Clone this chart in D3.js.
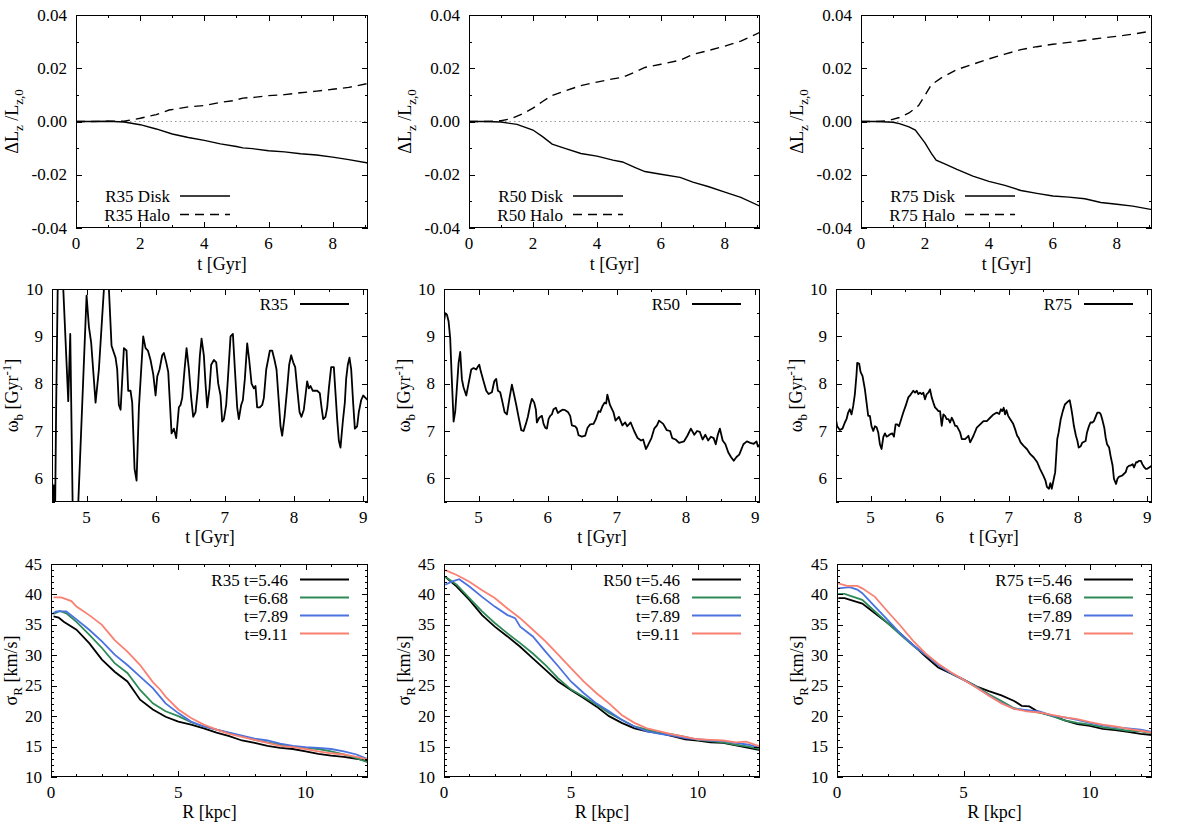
<!DOCTYPE html>
<html><head><meta charset="utf-8">
<script src="https://cdn.jsdelivr.net/npm/d3@7"></script>
<style>
body{margin:0;background:#fff}
svg{display:block}
svg text{font-family:"Liberation Serif","DejaVu Serif",serif !important;fill:#000}
</style>
</head><body>
<svg id="c" width="1177" height="822" font-family="Liberation Serif, DejaVu Serif, serif"></svg>
<script>
// ---------------- DATA ----------------
// Row 1: angular momentum change, [t (Gyr), dLz/Lz0]
const lzDiskR35 = [[0,0],[0.5,0],[1.0,0.0001],[1.5,-0.0002],[2.0,-0.0012],[2.5,-0.0028],[3.0,-0.0047],[3.5,-0.006],[4.0,-0.0071],[4.5,-0.0084],[5.0,-0.0094],[5.2,-0.0099],[5.5,-0.0102],[6.0,-0.011],[6.5,-0.0114],[7.0,-0.0121],[7.5,-0.0126],[8.0,-0.0134],[8.5,-0.0143],[9.1,-0.0156]];
const lzHaloR35 = [[0,0],[0.5,0],[1.0,0.0001],[1.5,0.0001],[2.0,0.0012],[2.5,0.0026],[2.9,0.0043],[3.5,0.0055],[4.0,0.006],[4.5,0.0072],[4.9,0.0078],[5.2,0.0088],[5.5,0.009],[6.0,0.0097],[6.5,0.0101],[7.0,0.0108],[7.5,0.0114],[8.0,0.0121],[8.5,0.0128],[9.1,0.0143]];
const lzDiskR50 = [[0,0],[0.5,0],[1.0,-0.0002],[1.5,-0.0011],[2.0,-0.0032],[2.3,-0.0057],[2.6,-0.0085],[3.0,-0.0101],[3.5,-0.012],[4.0,-0.013],[4.5,-0.0145],[4.8,-0.0152],[5.2,-0.0173],[5.5,-0.0188],[6.0,-0.0198],[6.6,-0.021],[7.0,-0.0228],[7.5,-0.0245],[8.0,-0.0265],[8.5,-0.0285],[9.1,-0.0318]];
const lzHaloR50 = [[0,0],[0.5,0],[1.0,0.0003],[1.3,0.001],[1.7,0.003],[2.0,0.005],[2.3,0.0075],[2.6,0.0098],[3.0,0.0115],[3.5,0.0135],[4.0,0.0148],[4.5,0.016],[4.8,0.0166],[5.2,0.0186],[5.5,0.0203],[6.0,0.0215],[6.6,0.023],[7.0,0.0252],[7.5,0.0267],[8.0,0.0283],[8.5,0.0302],[9.1,0.0335]];
const lzDiskR75 = [[0,0],[0.5,0],[1.0,-0.0003],[1.2,-0.0008],[1.5,-0.002],[1.7,-0.0032],[2.0,-0.008],[2.2,-0.012],[2.35,-0.0145],[2.6,-0.0158],[3.0,-0.018],[3.5,-0.0205],[4.0,-0.0225],[4.5,-0.024],[5.0,-0.0259],[5.5,-0.027],[6.0,-0.028],[6.5,-0.0284],[7.0,-0.029],[7.5,-0.0304],[8.0,-0.0311],[8.5,-0.0318],[9.1,-0.0331]];
const lzHaloR75 = [[0,0],[0.5,0],[0.8,0.0002],[1.2,0.0015],[1.5,0.0032],[1.8,0.006],[2.0,0.0098],[2.2,0.0138],[2.5,0.0163],[3.0,0.0195],[3.5,0.0215],[4.0,0.0235],[4.5,0.0253],[5.0,0.027],[5.5,0.0281],[6.0,0.029],[6.5,0.0297],[7.0,0.0305],[7.5,0.0313],[8.0,0.032],[8.5,0.0328],[9.1,0.034]];

// Row 2: bar pattern speed, [t (Gyr), omega_b (1/Gyr)]
const omegaR35 = [[4.504,5.9],[4.515,5.4],[4.53,5.85],[4.545,5.3],[4.56,7.5],[4.585,10.3],[4.62,10.8],[4.663,10.0],[4.735,7.63],[4.764,9.05],[4.80,5.3],[4.83,4.5],[4.875,5.3],[5.000,9.86],[5.034,9.2],[5.067,8.86],[5.130,7.6],[5.178,8.3],[5.251,10.0],[5.29,10.5],[5.323,10.0],[5.361,8.8],[5.419,8.55],[5.443,8.3],[5.467,7.55],[5.492,7.45],[5.540,8.75],[5.578,8.7],[5.602,7.85],[5.636,7.85],[5.660,7.6],[5.694,6.2],[5.723,5.95],[5.757,7.5],[5.819,9.0],[5.853,8.75],[5.887,8.7],[5.925,8.5],[5.964,8.2],[5.998,7.75],[6.022,8.15],[6.055,8.3],[6.094,8.6],[6.118,8.65],[6.152,8.45],[6.181,8.25],[6.205,7.6],[6.229,6.95],[6.263,7.05],[6.296,6.85],[6.335,7.5],[6.359,7.55],[6.383,7.7],[6.417,8.3],[6.446,8.75],[6.480,8.3],[6.513,7.7],[6.542,7.3],[6.576,7.4],[6.610,7.9],[6.639,8.6],[6.663,8.95],[6.696,8.6],[6.720,8.0],[6.745,7.5],[6.778,7.9],[6.802,8.4],[6.841,8.5],[6.875,8.45],[6.904,8.0],[6.937,7.75],[6.961,7.2],[6.986,7.25],[7.019,7.55],[7.048,8.2],[7.082,9.0],[7.116,9.05],[7.145,8.3],[7.178,7.5],[7.202,7.25],[7.236,7.55],[7.260,7.65],[7.289,8.1],[7.323,8.85],[7.352,8.5],[7.386,8.0],[7.419,7.9],[7.443,7.95],[7.467,7.5],[7.506,7.5],[7.540,7.55],[7.564,7.7],[7.598,8.3],[7.651,8.7],[7.684,8.7],[7.718,8.5],[7.747,8.3],[7.781,7.6],[7.805,7.1],[7.829,6.9],[7.863,7.3],[7.901,7.9],[7.930,8.4],[7.959,8.6],[7.988,8.45],[8.017,8.35],[8.046,7.9],[8.080,7.4],[8.108,7.3],[8.142,7.45],[8.166,7.75],[8.190,8.05],[8.214,7.9],[8.239,7.95],[8.272,7.85],[8.335,7.85],[8.373,7.8],[8.398,7.5],[8.422,7.25],[8.455,7.3],[8.480,7.5],[8.504,7.9],[8.537,8.35],[8.576,8.35],[8.600,7.8],[8.624,7.25],[8.648,6.8],[8.672,6.65],[8.706,7.2],[8.735,7.6],[8.754,8.1],[8.778,8.4],[8.802,8.55],[8.827,8.3],[8.855,7.6],[8.880,7.05],[8.913,7.1],[8.937,7.4],[8.971,7.65],[9.000,7.75],[9.034,7.7],[9.067,7.65]];
const omegaR50 = [[4.504,9.35],[4.518,9.49],[4.542,9.46],[4.566,9.32],[4.59,8.95],[4.61,8.2],[4.639,7.2],[4.663,7.42],[4.711,8.44],[4.735,8.67],[4.759,8.09],[4.783,7.92],[4.822,7.75],[4.855,8.0],[4.894,8.3],[4.928,8.33],[4.966,8.3],[4.986,8.35],[5.010,8.4],[5.034,8.25],[5.072,8.05],[5.111,7.85],[5.145,7.78],[5.193,7.82],[5.227,8.05],[5.255,8.1],[5.280,7.85],[5.313,7.82],[5.347,7.6],[5.376,7.4],[5.410,7.35],[5.448,7.7],[5.482,7.98],[5.516,7.75],[5.545,7.55],[5.578,7.3],[5.617,7.02],[5.651,7.0],[5.684,7.15],[5.713,7.3],[5.747,7.55],[5.771,7.68],[5.805,7.6],[5.829,7.45],[5.843,7.18],[5.877,7.28],[5.916,7.32],[5.940,7.15],[5.964,7.07],[5.988,7.05],[6.012,7.25],[6.036,7.32],[6.060,7.35],[6.084,7.46],[6.118,7.49],[6.147,7.38],[6.181,7.42],[6.214,7.45],[6.253,7.44],[6.292,7.4],[6.325,7.32],[6.349,7.12],[6.398,7.1],[6.422,7.05],[6.446,6.91],[6.494,6.88],[6.542,6.9],[6.576,7.07],[6.614,7.14],[6.663,7.15],[6.696,7.25],[6.735,7.42],[6.759,7.4],[6.793,7.53],[6.822,7.6],[6.845,7.58],[6.862,7.77],[6.90,7.55],[6.95,7.4],[6.98,7.22],[7.03,7.3],[7.08,7.12],[7.12,7.18],[7.15,7.1],[7.20,7.18],[7.25,7.0],[7.30,6.85],[7.35,6.8],[7.38,6.82],[7.42,6.62],[7.45,6.7],[7.50,6.85],[7.54,7.05],[7.58,7.12],[7.61,7.22],[7.67,7.15],[7.72,7.02],[7.77,7.0],[7.80,6.85],[7.85,6.82],[7.90,6.75],[7.97,6.78],[8.02,6.9],[8.07,7.05],[8.12,6.92],[8.16,7.0],[8.20,6.98],[8.24,6.82],[8.28,6.92],[8.32,6.8],[8.36,6.88],[8.40,6.85],[8.43,6.72],[8.46,6.92],[8.49,7.05],[8.53,6.8],[8.57,6.72],[8.61,6.55],[8.65,6.45],[8.69,6.37],[8.73,6.45],[8.77,6.5],[8.83,6.72],[8.88,6.78],[8.93,6.75],[8.98,6.73],[9.02,6.78],[9.04,6.67],[9.07,6.72]];
const omegaR75 = [[4.498,7.25],[4.517,7.1],[4.556,7.02],[4.594,7.05],[4.628,7.18],[4.652,7.25],[4.676,7.39],[4.700,7.46],[4.725,7.35],[4.749,7.53],[4.773,7.78],[4.797,8.2],[4.807,8.44],[4.836,8.42],[4.855,8.25],[4.884,8.16],[4.918,7.88],[4.942,7.6],[4.966,7.32],[4.990,7.32],[5.014,7.1],[5.039,7.0],[5.063,7.1],[5.087,7.08],[5.111,6.97],[5.135,6.72],[5.159,6.62],[5.184,6.87],[5.208,6.95],[5.232,6.88],[5.256,6.9],[5.280,6.93],[5.314,6.95],[5.338,6.88],[5.362,7.14],[5.386,7.14],[5.411,7.1],[5.435,7.21],[5.473,7.39],[5.507,7.53],[5.546,7.71],[5.580,7.77],[5.618,7.85],[5.643,7.81],[5.667,7.85],[5.691,7.78],[5.715,7.81],[5.739,7.78],[5.763,7.81],[5.787,7.67],[5.812,7.78],[5.836,7.81],[5.860,7.88],[5.884,7.71],[5.908,7.6],[5.932,7.5],[5.957,7.46],[5.981,7.42],[6.005,7.42],[6.029,7.11],[6.053,7.35],[6.077,7.32],[6.101,7.25],[6.126,7.25],[6.150,7.18],[6.174,7.28],[6.198,7.21],[6.222,7.11],[6.246,7.11],[6.295,6.97],[6.319,6.83],[6.367,6.83],[6.391,6.86],[6.415,6.9],[6.440,6.76],[6.464,6.83],[6.488,6.9],[6.536,7.07],[6.585,7.14],[6.633,7.21],[6.681,7.21],[6.729,7.28],[6.778,7.35],[6.826,7.39],[6.860,7.36],[6.885,7.46],[6.905,7.42],[6.925,7.49],[6.945,7.35],[6.965,7.44],[6.99,7.32],[7.02,7.25],[7.06,7.16],[7.09,7.04],[7.12,6.9],[7.14,6.86],[7.17,6.76],[7.21,6.69],[7.26,6.62],[7.31,6.51],[7.36,6.44],[7.41,6.34],[7.45,6.2],[7.50,6.05],[7.53,5.95],[7.55,5.82],[7.58,5.78],[7.60,5.9],[7.62,5.78],[7.65,5.99],[7.67,6.13],[7.70,6.83],[7.72,6.97],[7.75,7.25],[7.78,7.42],[7.81,7.56],[7.86,7.63],[7.88,7.65],[7.90,7.5],[7.92,7.32],[7.94,7.11],[7.97,6.9],[7.99,6.8],[8.01,6.65],[8.04,6.68],[8.06,6.75],[8.11,6.79],[8.13,6.97],[8.16,7.11],[8.18,7.18],[8.21,7.18],[8.23,7.21],[8.26,7.32],[8.28,7.39],[8.31,7.39],[8.33,7.35],[8.35,7.25],[8.38,7.07],[8.40,6.86],[8.42,6.72],[8.45,6.65],[8.47,6.48],[8.50,6.27],[8.52,5.99],[8.55,5.88],[8.57,5.99],[8.59,6.03],[8.64,6.06],[8.69,6.13],[8.71,6.23],[8.74,6.27],[8.76,6.27],[8.79,6.3],[8.81,6.23],[8.84,6.34],[8.86,6.34],[8.88,6.37],[8.91,6.37],[8.93,6.3],[8.96,6.23],[8.98,6.2],[9.00,6.2],[9.03,6.23],[9.07,6.27]];

// Row 3: radial velocity dispersion, [R (kpc), sigma_R (km/s)]
const sigR35_546 = [[0.1,36.4],[0.3,36.2],[0.5,35.5],[1.0,34.2],[1.5,32.0],[2.0,29.3],[2.5,27.3],[3.0,25.7],[3.5,22.7],[4.0,21.1],[4.5,19.9],[5.0,19.1],[5.5,18.6],[6.0,18.0],[6.5,17.3],[7.0,16.7],[7.5,16.0],[8.0,15.6],[8.5,15.1],[9.0,14.8],[9.5,14.6],[10,14.2],[10.5,13.8],[11,13.5],[11.5,13.3],[12,13.0],[12.45,12.6]];
const sigR35_668 = [[0.1,36.8],[0.35,37.3],[0.6,36.9],[1.0,35.5],[1.5,33.4],[2.0,31.2],[2.5,28.7],[3.0,27.1],[3.5,24.3],[4.0,22.1],[4.5,20.8],[5.0,20.0],[5.5,19.0],[6.0,18.3],[6.5,17.8],[7.0,17.2],[7.5,16.7],[8.0,16.1],[8.5,15.7],[9.0,15.3],[9.5,15.0],[10,14.8],[10.5,14.6],[11,14.2],[11.5,13.7],[12,13.1],[12.45,12.4]];
const sigR35_789 = [[0.05,36.8],[0.2,37.2],[0.6,37.2],[1.0,35.9],[1.5,34.2],[2.0,32.3],[2.5,30.1],[3.0,28.4],[3.5,26.5],[4.0,24.6],[4.5,22.1],[5.0,20.5],[5.5,19.1],[6.0,18.3],[6.5,17.8],[7.0,17.3],[7.5,16.8],[8.0,16.3],[8.5,16.0],[9.0,15.5],[9.5,15.1],[10,14.9],[10.5,14.8],[11,14.6],[11.5,14.2],[12,13.7],[12.45,12.9]];
const sigR35_911 = [[0.1,39.5],[0.4,39.5],[0.8,38.9],[1.0,38.0],[1.5,36.6],[2.0,35.0],[2.5,32.5],[3.0,30.6],[3.5,28.4],[4.0,25.6],[4.3,24.3],[4.5,23.2],[5.0,21.1],[5.5,19.7],[6.0,18.6],[6.5,17.8],[7.0,17.1],[7.5,16.6],[8.0,16.1],[8.5,15.6],[9.0,15.1],[9.5,14.9],[10,14.6],[10.5,14.2],[11,13.9],[11.5,13.7],[12,13.3],[12.45,12.9]];
const sigR50_546 = [[0.05,42.9],[0.5,41.3],[1.0,39.1],[1.5,36.6],[2.0,34.7],[2.5,33.1],[3.0,31.4],[3.5,29.5],[4.0,27.6],[4.5,25.7],[5.0,24.3],[5.5,23.0],[6.0,21.6],[6.5,20.0],[7.0,18.9],[7.5,18.0],[8.0,17.5],[8.5,17.2],[9.0,16.7],[9.5,16.2],[10,16.0],[10.5,15.7],[11,15.6],[11.5,15.2],[12,14.8],[12.45,14.4]];
const sigR50_668 = [[0.05,42.9],[0.5,41.6],[1.0,39.4],[1.5,37.2],[2.0,35.3],[2.5,33.6],[3.0,32.0],[3.5,30.3],[4.0,28.4],[4.5,26.2],[5.0,24.4],[5.5,23.2],[6.0,21.9],[6.5,20.5],[7.0,19.4],[7.5,18.3],[8.0,17.8],[8.5,17.2],[9.0,17.0],[9.5,16.6],[10,16.1],[10.5,15.9],[11,15.7],[11.5,15.3],[12,15.0],[12.45,14.6]];
const sigR50_789 = [[0.05,41.6],[0.3,42.1],[0.6,42.5],[1.0,41.3],[1.5,39.6],[2.0,38.0],[2.5,36.6],[2.8,36.1],[3.0,34.7],[3.5,33.1],[4.0,30.6],[4.5,28.2],[5.0,25.7],[5.5,23.8],[6.0,22.1],[6.5,20.8],[7.0,19.4],[7.5,18.3],[8.0,17.5],[8.5,17.1],[9.0,16.8],[9.5,16.4],[10,16.2],[10.5,16.0],[11,15.9],[11.5,15.6],[12,15.3],[12.45,14.8]];
const sigR50_911 = [[0.05,44.0],[0.5,43.2],[1.0,42.1],[1.5,40.7],[2.0,39.4],[2.5,37.7],[3.0,36.1],[3.5,34.2],[4.0,32.3],[4.5,30.1],[5.0,27.9],[5.5,25.7],[6.0,23.8],[6.5,22.1],[7.0,20.2],[7.5,18.9],[8.0,18.0],[8.5,17.5],[9.0,17.0],[9.5,16.6],[10,16.2],[10.5,16.1],[11,16.0],[11.5,15.7],[11.9,15.8],[12.45,15.0]];
const sigR75_546 = [[0.05,39.4],[0.3,39.4],[1.0,38.5],[1.5,36.9],[2.0,35.3],[2.5,33.6],[3.0,31.7],[3.5,29.8],[4.0,28.0],[4.5,27.0],[5.0,26.0],[5.5,24.9],[6.0,24.1],[6.5,23.4],[7.0,22.5],[7.3,21.7],[7.6,21.6],[8.0,20.6],[8.5,20.1],[9.0,19.3],[9.5,18.7],[10,18.4],[10.5,17.9],[11,17.7],[11.5,17.4],[12,17.1],[12.45,16.9]];
const sigR75_668 = [[0.05,40.1],[0.3,40.1],[1.0,39.1],[1.5,37.2],[2.0,35.3],[2.5,33.4],[3.0,31.6],[3.5,30.1],[4.0,28.4],[4.5,27.1],[5.0,26.0],[5.5,24.9],[6.0,23.6],[6.5,22.5],[7.0,21.3],[7.5,20.9],[8.0,20.6],[8.5,20.0],[9.0,19.3],[9.5,18.9],[10,18.6],[10.5,18.2],[11,17.9],[11.5,17.6],[12,17.5],[12.45,17.2]];
const sigR75_789 = [[0.05,41.0],[0.5,41.2],[0.8,40.8],[1.0,40.2],[1.5,38.0],[2.0,35.8],[2.5,33.6],[3.0,31.7],[3.5,30.1],[4.0,28.4],[4.5,27.1],[5.0,26.0],[5.5,24.8],[6.0,23.4],[6.5,22.2],[7.0,21.2],[7.5,21.0],[8.0,20.8],[8.5,20.1],[9.0,19.8],[9.5,19.4],[10,18.9],[10.5,18.5],[11,18.2],[11.5,18.0],[12,17.8],[12.45,17.4]];
const sigR75_971 = [[0.05,41.8],[0.4,41.4],[0.8,41.4],[1.0,41.0],[1.5,39.6],[2.0,37.2],[2.5,34.9],[3.0,32.4],[3.5,30.3],[4.0,28.6],[4.5,27.2],[5.0,26.0],[5.5,24.7],[6.0,23.4],[6.5,22.1],[7.0,21.2],[7.5,20.8],[8.0,20.6],[8.5,20.2],[9.0,19.8],[9.5,19.5],[10,19.0],[10.5,18.6],[11,18.3],[11.5,17.9],[12,17.6],[12.45,17.3]];

// Tick values
const row1XTicks = [0,2,4,6,8];
const row1XMinor = [1,3,5,7,9];
const row1YTicks = [-0.04,-0.02,0,0.02,0.04];
const row1YMinor = [-0.03,-0.01,0.01,0.03];
const row2XTicks = [5,6,7,8,9];
const row2XMinor = [4.5,5.5,6.5,7.5,8.5];
const row2YTicks = [6,7,8,9,10];
const row2YMinor = [5.5,6.5,7.5,8.5,9.5];
const row3XTicks = [0,5,10];
const row3XMinor = [1,2,3,4,6,7,8,9,11,12];
const row3YTicks = [10,15,20,25,30,35,40,45];
const row3YMinor = d3.range(11,45).filter(v => v % 5 !== 0);

// Labels
const runNames = ["R35","R50","R75"];
const snapLabels = [["t=5.46","t=6.68","t=7.89","t=9.11"],["t=5.46","t=6.68","t=7.89","t=9.11"],["t=5.46","t=6.68","t=7.89","t=9.71"]];
const snapColors = ["#000000","#2e8b57","#4a72e0","#fa8072"];

// ---------------- DRAWING ----------------
const FONT = "Liberation Serif, DejaVu Serif, serif";
const svg = d3.select("#c");
const colRight = [368, 760, 1152];
const rows = [
  {top:15, bottom:228, lefts:[76,469,861]},
  {top:289, bottom:502, lefts:[52,444,836]},
  {top:564, bottom:777, lefts:[51,444,837]}
];
let clipId = 0;

function txt(g){ return g.append("text").attr("font-family",FONT).attr("fill","#000"); }

function frame(g, x, y, L, R, T, B, xt, xm, yt, ym, fmtY, fmtX) {
  const tl = 6, ml = 3;
  const tk = g.append("g").attr("stroke","#000").attr("stroke-width",1);
  xt.forEach(v => { const px = Math.round(x(v))+0.5;
    tk.append("line").attr("x1",px).attr("x2",px).attr("y1",B).attr("y2",B-tl);
    tk.append("line").attr("x1",px).attr("x2",px).attr("y1",T).attr("y2",T+tl); });
  xm.forEach(v => { const px = Math.round(x(v))+0.5;
    tk.append("line").attr("x1",px).attr("x2",px).attr("y1",B).attr("y2",B-ml);
    tk.append("line").attr("x1",px).attr("x2",px).attr("y1",T).attr("y2",T+ml); });
  yt.forEach(v => { const py = Math.round(y(v))+0.5;
    tk.append("line").attr("x1",L).attr("x2",L+tl).attr("y1",py).attr("y2",py);
    tk.append("line").attr("x1",R).attr("x2",R-tl).attr("y1",py).attr("y2",py); });
  ym.forEach(v => { const py = Math.round(y(v))+0.5;
    tk.append("line").attr("x1",L).attr("x2",L+ml).attr("y1",py).attr("y2",py);
    tk.append("line").attr("x1",R).attr("x2",R-ml).attr("y1",py).attr("y2",py); });
  g.append("rect").attr("x",L+0.5).attr("y",T+0.5).attr("width",R-L-1).attr("height",B-T-1)
    .attr("fill","none").attr("stroke","#000").attr("stroke-width",1);
  xt.forEach(v => txt(g).attr("x",x(v)).attr("y",B+21).attr("text-anchor","middle")
    .attr("font-size",17).text(fmtX(v)));
  yt.forEach(v => txt(g).attr("x",L-9).attr("y",y(v)+5.5).attr("text-anchor","end")
    .attr("font-size",17).text(fmtY(v)));
}

function clip(L,R,T,B){
  const id = "clip"+(clipId++);
  svg.append("clipPath").attr("id",id).append("rect").attr("x",L).attr("y",T).attr("width",R-L).attr("height",B-T);
  return "url(#"+id+")";
}

function xTitle(g, cx, yb, s){
  txt(g).attr("x",cx).attr("y",yb).attr("text-anchor","middle").attr("font-size",18).text(s);
}
function yTitle(g, lx, cy, parts){
  const t = txt(g).attr("transform",`translate(${lx},${cy}) rotate(-90)`)
    .attr("text-anchor","middle").attr("font-size",18);
  let shift = 0;
  parts.forEach(p => {
    const target = p.sub ? 5 : (p.sup ? -7 : 0);
    t.append("tspan").attr("dy", target - shift).attr("font-size", (p.sub||p.sup) ? 13 : 18).text(p.t);
    shift = target;
  });
}

// Row 1
const lzDisk = [lzDiskR35, lzDiskR50, lzDiskR75];
const lzHalo = [lzHaloR35, lzHaloR50, lzHaloR75];
for (let c=0;c<3;c++){
  const r = rows[0], L=r.lefts[c], R=colRight[c], T=r.top, B=r.bottom;
  const g = svg.append("g");
  const x = d3.scaleLinear().domain([0,9.1]).range([L,R]);
  const y = d3.scaleLinear().domain([-0.04,0.04]).range([B,T]);
  const cp = clip(L,R,T,B);
  g.append("line").attr("x1",L).attr("x2",R).attr("y1",y(0)).attr("y2",y(0))
    .attr("stroke","#999").attr("stroke-width",1.2).attr("stroke-dasharray","1.5,3");
  const line = d3.line().x(d=>x(d[0])).y(d=>y(d[1]));
  g.append("path").attr("d",line(lzDisk[c])).attr("fill","none").attr("stroke","#000").attr("stroke-width",1.4).attr("clip-path",cp);
  g.append("path").attr("d",line(lzHalo[c])).attr("fill","none").attr("stroke","#000").attr("stroke-width",1.4)
    .attr("stroke-dasharray","9,6").attr("clip-path",cp);
  frame(g,x,y,L,R,T,B,row1XTicks,row1XMinor,row1YTicks,row1YMinor,v=>v.toFixed(2),v=>String(v));
  xTitle(g,(L+R)/2,B+42,"t [Gyr]");
  yTitle(g,L-58,(T+B)/2,[{t:"ΔL"},{t:"z",sub:1},{t:" /L"},{t:"z,0",sub:1}]);
  const names = [" Disk"," Halo"];
  [0,1].forEach(i => {
    const yy = T + 181 + i*18.5;
    txt(g).attr("x",L+94).attr("y",yy+6).attr("text-anchor","end").attr("font-size",17).text(runNames[c]+names[i]);
    g.append("line").attr("x1",L+104).attr("x2",L+154).attr("y1",yy).attr("y2",yy)
      .attr("stroke","#000").attr("stroke-width",1.4).attr("stroke-dasharray", i ? "9,6" : null);
  });
}

// Row 2
const omegas = [omegaR35, omegaR50, omegaR75];
for (let c=0;c<3;c++){
  const r = rows[1], L=r.lefts[c], R=colRight[c], T=r.top, B=r.bottom;
  const g = svg.append("g");
  const x = d3.scaleLinear().domain([4.5,9.07]).range([L,R]);
  const y = d3.scaleLinear().domain([5.5,10]).range([B,T]);
  const cp = clip(L,R,T,B);
  const line = d3.line().x(d=>x(d[0])).y(d=>y(d[1]));
  g.append("path").attr("d",line(omegas[c])).attr("fill","none").attr("stroke","#000")
    .attr("stroke-width",1.8).attr("stroke-linejoin","round").attr("clip-path",cp);
  frame(g,x,y,L,R,T,B,row2XTicks,row2XMinor,row2YTicks,row2YMinor,v=>String(v),v=>String(v));
  xTitle(g,(L+R)/2,B+41,"t [Gyr]");
  yTitle(g,L-34,(T+B)/2,[{t:"ω"},{t:"b",sub:1},{t:" [Gyr"},{t:"-1",sup:1},{t:"]"}]);
  const yy = T+15;
  txt(g).attr("x",R-80).attr("y",yy+6).attr("text-anchor","end").attr("font-size",17).text(runNames[c]);
  g.append("line").attr("x1",R-68).attr("x2",R-19).attr("y1",yy).attr("y2",yy).attr("stroke","#000").attr("stroke-width",1.8);
}

// Row 3
const sigs = [[sigR35_546,sigR35_668,sigR35_789,sigR35_911],[sigR50_546,sigR50_668,sigR50_789,sigR50_911],[sigR75_546,sigR75_668,sigR75_789,sigR75_971]];
for (let c=0;c<3;c++){
  const r = rows[2], L=r.lefts[c], R=colRight[c], T=r.top, B=r.bottom;
  const g = svg.append("g");
  const x = d3.scaleLinear().domain([0,12.45]).range([L,R]);
  const y = d3.scaleLinear().domain([10,45]).range([B,T]);
  const cp = clip(L,R,T,B);
  const line = d3.line().x(d=>x(d[0])).y(d=>y(d[1]));
  sigs[c].forEach((s,i) => g.append("path").attr("d",line(s)).attr("fill","none").attr("stroke",snapColors[i])
    .attr("stroke-width",1.8).attr("clip-path",cp));
  frame(g,x,y,L,R,T,B,row3XTicks,row3XMinor,row3YTicks,row3YMinor,v=>String(v),v=>String(v));
  xTitle(g,(L+R)/2,B+41,"R [kpc]");
  yTitle(g,L-34,(T+B)/2,[{t:"σ"},{t:"R",sub:1},{t:" [km/s]"}]);
  snapLabels[c].forEach((lab,i) => {
    const yy = T+15.5+i*18;
    txt(g).attr("x",R-80).attr("y",yy+6).attr("text-anchor","end").attr("font-size",17)
      .text(i===0 ? runNames[c]+" "+lab : lab);
    g.append("line").attr("x1",R-68).attr("x2",R-19).attr("y1",yy).attr("y2",yy).attr("stroke",snapColors[i]).attr("stroke-width",1.8);
  });
}
</script>
</body></html>
